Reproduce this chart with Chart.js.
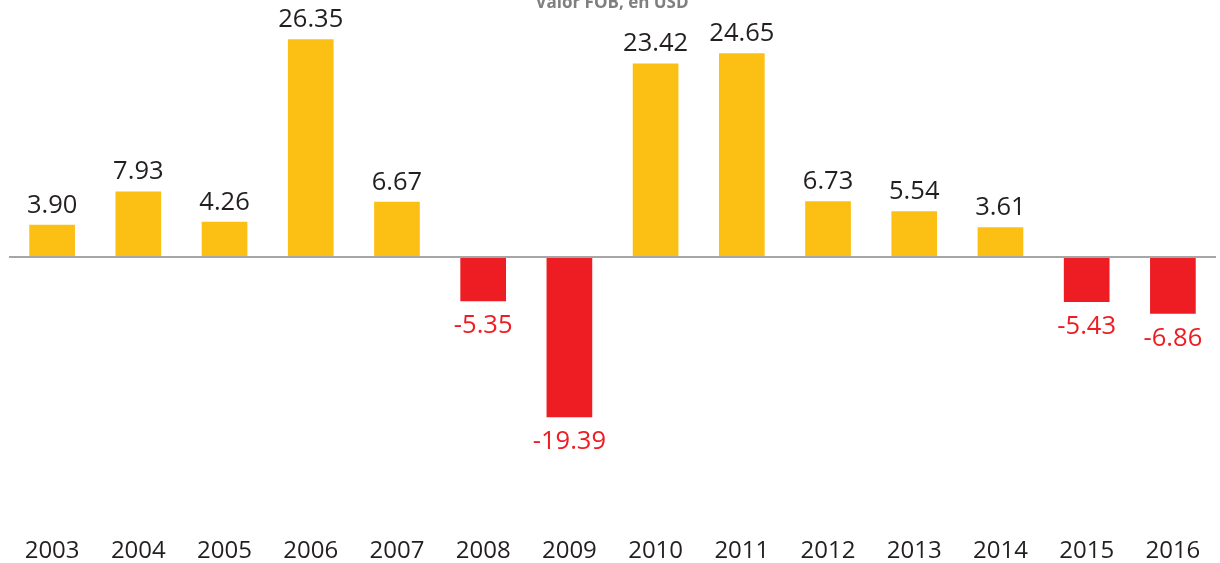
<!DOCTYPE html>
<html><head><meta charset="utf-8">
<script src="https://cdn.jsdelivr.net/npm/chart.js@4"></script>
<style>html,body{margin:0;padding:0;background:#fff;overflow:hidden}canvas{display:block}</style>
</head><body><canvas id="c" width="1220" height="563" style="width:1220px;height:563px"></canvas>
<script>
const years = ['2003','2004','2005','2006','2007','2008','2009','2010','2011','2012','2013','2014','2015','2016'];
const values = [3.90, 7.93, 4.26, 26.35, 6.67, -5.35, -19.39, 23.42, 24.65, 6.73, 5.54, 3.61, -5.43, -6.86];
const titleText = 'Valor FOB, en USD';
const posColor = '#FCC014';
const negColor = '#EE1D24';

const labelPlugin = {
  id: 'vlabels',
  afterDatasetsDraw(chart) {
    const ctx = chart.ctx;
    const meta = chart.getDatasetMeta(0);
    ctx.save();
    ctx.font = '25.5px "Open Sans"';
    ctx.textAlign = 'center';
    meta.data.forEach((bar, i) => {
      const v = values[i];
      ctx.textBaseline = 'alphabetic';
      if (v >= 0) {
        ctx.fillStyle = '#231F20';
        ctx.fillText(v.toFixed(2), bar.x, bar.y - 12);
      } else {
        ctx.fillStyle = negColor;
        ctx.fillText(v.toFixed(2), bar.x, bar.y + 32);
      }
    });
    ctx.restore();
  }
};
const titlePlugin = {
  id: 'cutTitle',
  afterDraw(chart) {
    const ctx = chart.ctx;
    ctx.save();
    ctx.font = 'bold 17px "Open Sans"';
    ctx.fillStyle = '#7F7F7F';
    ctx.textAlign = 'center';
    ctx.textBaseline = 'alphabetic';
    ctx.fillText(titleText, 612, 8);
    ctx.restore();
  }
};

new Chart(document.getElementById('c'), {
  type: 'bar',
  data: {
    labels: years,
    datasets: [{
      data: values,
      backgroundColor: values.map(v => v >= 0 ? posColor : negColor),
      categoryPercentage: 1.0,
      barPercentage: 0.53
    }]
  },
  options: {
    responsive: false,
    maintainAspectRatio: false,
    animation: false,
    layout: { padding: { top: 9, left: 9, right: 4, bottom: 0 } },
    plugins: { legend: { display: false }, tooltip: { enabled: false }, title: { display: false } },
    scales: {
      x: {
        grid: { display: false },
        border: { display: false },
        ticks: { color: '#231F20', font: { family: 'Open Sans', size: 24 }, padding: 24, maxRotation: 0, autoSkip: false },
        afterFit(scale) { scale.height = 58; scale.paddingLeft = 0; scale.paddingRight = 0; }
      },
      y: {
        min: -30, max: 30,
        ticks: { display: false, stepSize: 10 },
        border: { display: false },
        afterFit(scale) { scale.width = 0; scale.paddingTop = 0; scale.paddingBottom = 0; },
        grid: {
          drawTicks: false,
          color: c => c.tick && c.tick.value === 0 ? '#A6A6A6' : 'rgba(0,0,0,0)',
          lineWidth: c => c.tick && c.tick.value === 0 ? 2 : 0
        }
      }
    }
  },
  plugins: [labelPlugin, titlePlugin]
});
</script></body></html>
